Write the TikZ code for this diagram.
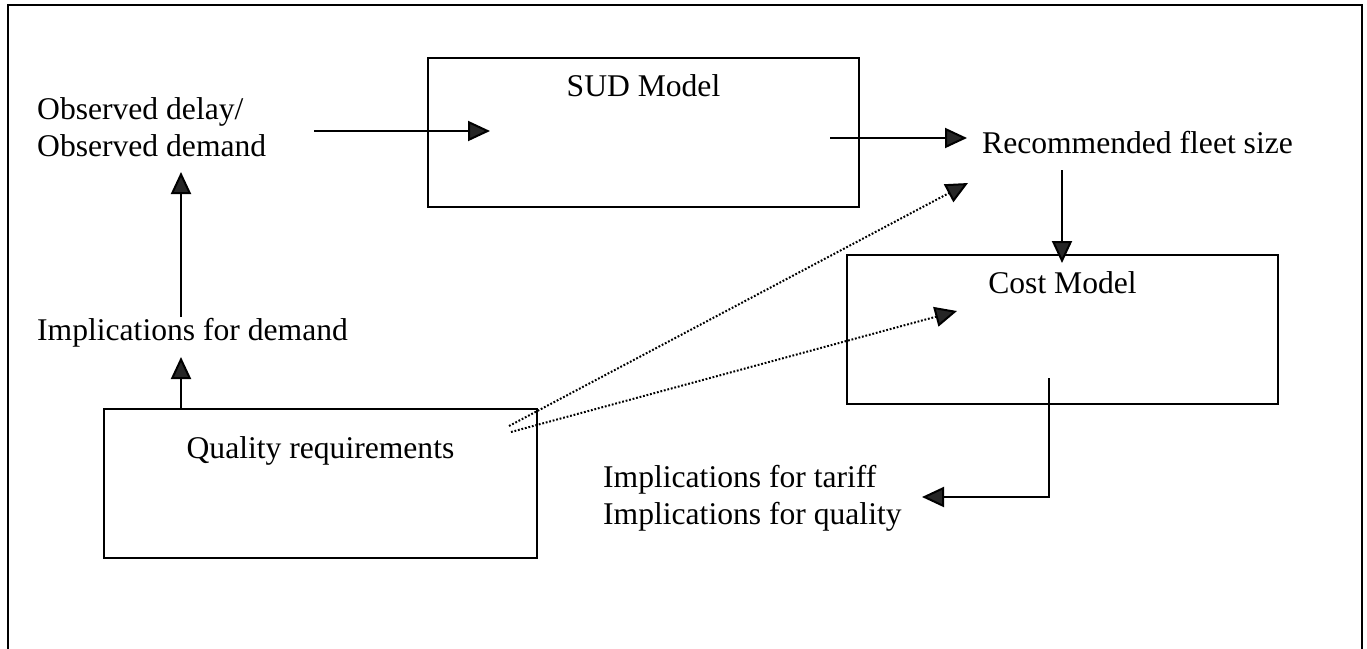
\documentclass[tikz,border=0pt]{standalone}
\usepackage{fontspec}
\setmainfont{Liberation Serif}
\usetikzlibrary{arrows.meta}
\begin{document}
\begin{tikzpicture}[x=1pt,y=-1pt,
  box/.style={draw, line width=2pt, minimum width=431pt, minimum height=149pt, inner sep=0pt},
  lbl/.style={font=\fontsize{31.6}{37}\selectfont, inner sep=0pt, align=left},
  tip/.style={-{Triangle[length=22pt,width=20pt,fill=black!85]}},
  flow/.style={line width=2pt, tip},
  hint/.style={line width=2pt, dash pattern=on 1.8pt off 1.8pt, tip},
  frame/.style={draw, line width=2pt}]
\useasboundingbox (0,0) rectangle (1367,648);
\clip (0,0) rectangle (1367,648);
% outer frame (runs past the lower edge)
\draw[frame] (8,5) rectangle (1362,700);

% boxes and their titles
\node[box] (sud) at (643.5,132.5) {};
\node[lbl, anchor=base] (sudt) at (643.5,96) {SUD Model};
\node[box] (cost) at (1062.5,329.5) {};
\node[lbl, anchor=base] (costt) at (1062.5,293) {Cost Model};
\node[box, minimum width=433pt] (qual) at (320.5,483.5) {};
\node[lbl, anchor=base] (qualt) at (320.5,458) {Quality requirements};

% free labels (base anchor sits on the last line)
\node[lbl, anchor=base west] (obs) at (37,156) {Observed delay/\\Observed demand};
\node[lbl, anchor=base west] (rec) at (982,153) {Recommended fleet size};
\node[lbl, anchor=base west] (impd) at (37,340) {Implications for demand};
\node[lbl, anchor=base west] (impt) at (603,524) {Implications for tariff\\Implications for quality};

% connector ends
\coordinate (obsout) at (314,131);
\coordinate (sudin) at (490,131);
\coordinate (sudout) at (830,138);
\coordinate (recin) at (967,138);
\coordinate (recout) at (1062,170);
\coordinate (costin) at (1062,263);
\coordinate (costout) at (1049,378);
\coordinate (costbend) at (1049,497);
\coordinate (imptin) at (922,497);
\coordinate (qualout) at (181,409);
\coordinate (impdin) at (181,357);
\coordinate (impdout) at (181,317);
\coordinate (obsin) at (181,172);
\coordinate (qualhintA) at (509,426);
\coordinate (rechint) at (968,183);
\coordinate (qualhintB) at (511,432);
\coordinate (costhint) at (957,311);

% solid flows
\draw[flow] (obsout) -- (sudin);
\draw[flow] (sudout) -- (recin);
\draw[flow] (recout) -- (costin);
\draw[flow] (costout) -- (costbend) -- (imptin);
\draw[flow] (qualout) -- (impdin);
\draw[flow] (impdout) -- (obsin);

% dotted influences from the quality requirements
\draw[hint] (qualhintA) -- (rechint);
\draw[hint] (qualhintB) -- (costhint);
\end{tikzpicture}
\end{document}
